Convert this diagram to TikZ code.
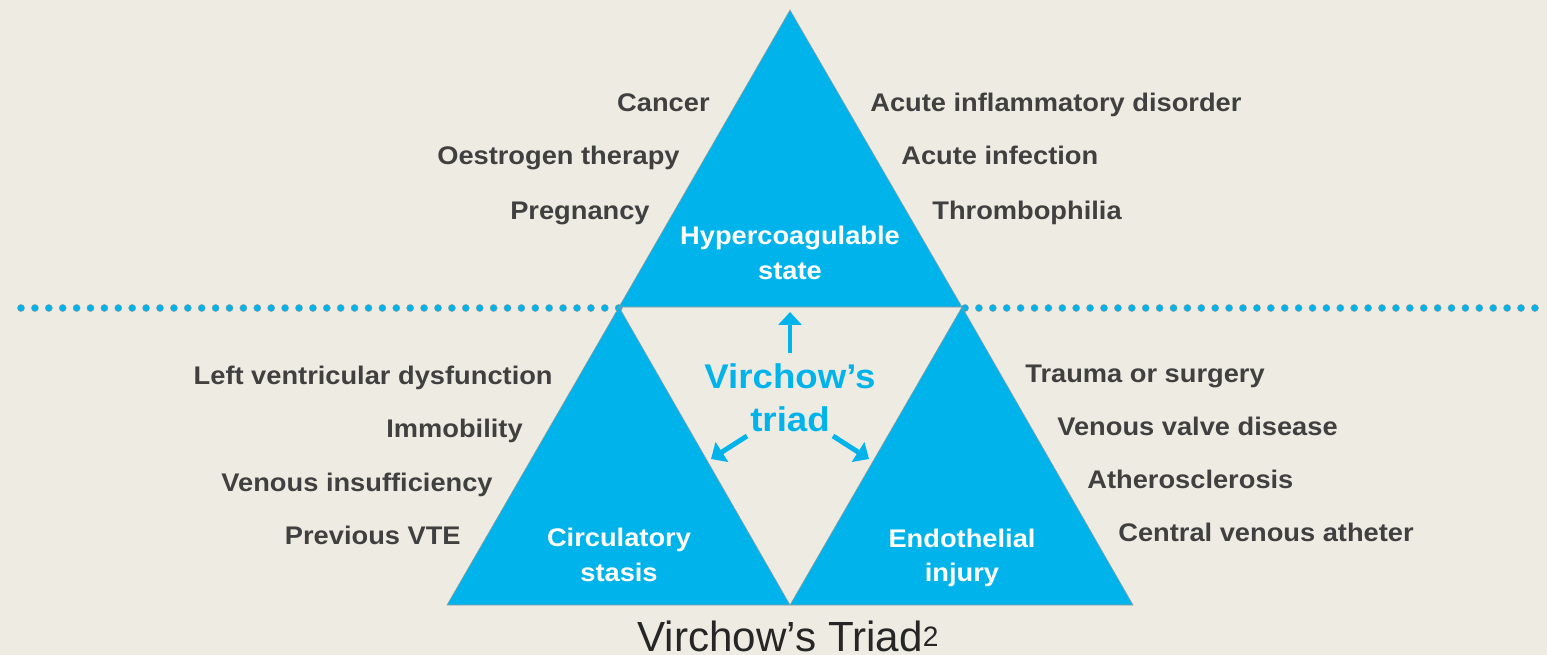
\documentclass[tikz,border=0pt]{standalone}
\usepackage{fontspec}
\setmainfont{Liberation Sans}
\newfontfamily\widebold[FakeStretch=1.07]{Liberation Sans Bold}
\usepackage{tikz}
\usetikzlibrary{arrows.meta,positioning}
\definecolor{TriCyan}{HTML}{00B4EB}
\definecolor{TriPaper}{HTML}{EEEBE3}
\definecolor{TriText}{HTML}{404040}
\definecolor{TriEdge}{HTML}{9A9A96}

\begin{document}
\begin{tikzpicture}[
    x=0.02cm, y=-0.02cm,
    tri/.style={
      fill=TriCyan,
      draw=TriEdge,
      line width=0.3pt
    },
    factor/.style={
      font=\fontsize{14.5}{17}\widebold,
      color=TriText,
      inner sep=0pt
    },
    inlabel/.style={
      font=\fontsize{14.5}{19.5}\widebold,
      color=white,
      align=center,
      inner sep=0pt
    },
    dot/.style={
      fill=TriCyan,
      draw=TriEdge,
      line width=0.2pt
    },
    triarrow/.style={
      -{Triangle[length=0.26cm,width=0.46cm]},
      line width=2.8pt,
      color=TriCyan
    }
  ]

  % Paper
  \fill[TriPaper] (0,0) rectangle (1547,655);
  \useasboundingbox (0,0) rectangle (1547,655);

  % Dotted divider
  \foreach \i in {0,...,43}
    \draw[dot] (21+13.9*\i,308) circle (3.6);
  \foreach \i in {0,...,41}
    \draw[dot] (965+13.9*\i,308) circle (3.6);

  % The three triangles
  \filldraw[tri] (790,10) -- (962,307) -- (619,307) -- cycle;
  \filldraw[tri] (619,307) -- (790,605) -- (447,605) -- cycle;
  \filldraw[tri] (962,307) -- (1133,605) -- (790,605) -- cycle;

  % Triangle labels
  \node[inlabel] (hyper) at (790,253) {Hypercoagulable\\state};
  \node[inlabel] (stasis) at (619,555) {Circulatory\\stasis};
  \node[inlabel] (injury) at (962,558) {Endothelial\\injury};

  % Centre label and arrows
  \node[font=\fontsize{19.5}{24.5}\widebold,color=TriCyan,
        align=center,inner sep=0pt] (triad) at (790,398) {Virchow’s\\triad};
  \coordinate (upTail) at (790,353);
  \coordinate (upTip) at (790,312);
  \coordinate (leftTail) at (747,436);
  \coordinate (leftTip) at (711,459);
  \coordinate (rightTail) at (833,436);
  \coordinate (rightTip) at (869,459);
  \draw[triarrow] (upTail) -- (upTip);
  \draw[triarrow] (leftTail) -- (leftTip);
  \draw[triarrow] (rightTail) -- (rightTip);

  % Hypercoagulable state
  \node[factor,anchor=base east] (cancer) at (710,112) {Cancer};
  \node[factor,anchor=base east] (oestro) at (680,165) {Oestrogen therapy};
  \node[factor,anchor=base east] (preg) at (650,219) {Pregnancy};
  \node[factor,anchor=base west] (acuteinfl) at (870,112) {Acute inflammatory disorder};
  \node[factor,anchor=base west] (acuteinf) at (901,165) {Acute infection};
  \node[factor,anchor=base west] (thromb) at (932,219) {Thrombophilia};

  % Circulatory stasis
  \node[factor,anchor=base east] (lvd) at (553,384) {Left ventricular dysfunction};
  \node[factor,anchor=base east] (immob) at (523,437) {Immobility};
  \node[factor,anchor=base east] (venins) at (493,491) {Venous insufficiency};
  \node[factor,anchor=base east] (vte) at (461,544) {Previous VTE};

  % Endothelial injury
  \node[factor,anchor=base west] (trauma) at (1025,382) {Trauma or surgery};
  \node[factor,anchor=base west] (valve) at (1057,435) {Venous valve disease};
  \node[factor,anchor=base west] (athero) at (1087,488) {Atherosclerosis};
  \node[factor,anchor=base west] (cvc) at (1118,541) {Central venous atheter};

  % Caption
  \node[font=\fontsize{24}{28}\selectfont,color=black!85,inner sep=0pt,
        anchor=base] (caption) at (788,651)
    {Virchow’s Triad\raisebox{2.4pt}{\fontsize{16}{16}\selectfont 2}};

\end{tikzpicture}
\end{document}
